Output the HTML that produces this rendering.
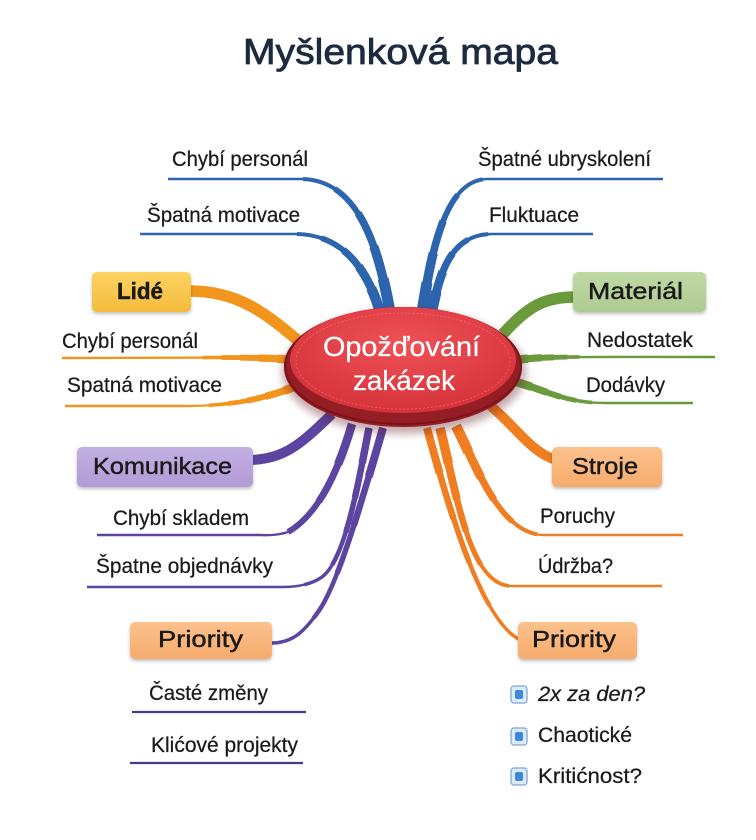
<!DOCTYPE html>
<html>
<head>
<meta charset="utf-8">
<style>
  html,body{margin:0;padding:0;background:#ffffff;}
  body{width:756px;height:840px;overflow:hidden;}
  svg{display:block;}
  text{font-family:"Liberation Sans","DejaVu Sans",sans-serif;}
  .leaf{font-size:21px;fill:#1b1b1f;stroke:#1b1b1f;stroke-width:0.25px;}
  .node{font-size:23px;fill:#1a1a1a;stroke:#1a1a1a;stroke-width:0.45px;}
</style>
</head>
<body>
<svg width="756" height="840" viewBox="0 0 756 840" xmlns="http://www.w3.org/2000/svg">
  <defs>
    <filter id="sh" x="-10%" y="-20%" width="120%" height="150%">
      <feDropShadow dx="0" dy="2" stdDeviation="1.5" flood-color="#000" flood-opacity="0.25"/>
    </filter>
    <filter id="blur4" x="-20%" y="-20%" width="140%" height="140%">
      <feGaussianBlur stdDeviation="4"/>
    </filter>
    <radialGradient id="face" cx="50%" cy="35%" r="65%">
      <stop offset="0" stop-color="#ee5257"/>
      <stop offset="1" stop-color="#d6323a"/>
    </radialGradient>
    <linearGradient id="gY" x1="0" y1="0" x2="0" y2="1"><stop offset="0" stop-color="#fcd262"/><stop offset="1" stop-color="#f4bc3d"/></linearGradient>
    <linearGradient id="gG" x1="0" y1="0" x2="0" y2="1"><stop offset="0" stop-color="#bfd9a5"/><stop offset="1" stop-color="#aecb90"/></linearGradient>
    <linearGradient id="gP" x1="0" y1="0" x2="0" y2="1"><stop offset="0" stop-color="#c3b0e2"/><stop offset="1" stop-color="#b09bd6"/></linearGradient>
    <linearGradient id="gO" x1="0" y1="0" x2="0" y2="1"><stop offset="0" stop-color="#fcc18d"/><stop offset="1" stop-color="#f6ab6c"/></linearGradient>
  </defs>

  <!-- Title -->
  <text x="243" y="64" font-size="36" fill="#1c2b3e" stroke="#1c2b3e" stroke-width="0.8" textLength="315" lengthAdjust="spacingAndGlyphs">Myšlenková mapa</text>

  <!-- ===== BLUE branches ===== -->
  <g fill="none" stroke="#2c64ae" stroke-linecap="butt">
    <path d="M390 312 C378 245 358 180 302 179 L168 179" stroke-width="2.4"/>
    <path d="M390 312 C378 245 358 180 302 179 L168 179" pathLength="100" stroke-dasharray="56 200" stroke-width="4.1"/>
    <path d="M390 312 C378 245 358 180 302 179 L168 179" pathLength="100" stroke-dasharray="45 200" stroke-width="5.8"/>
    <path d="M390 312 C378 245 358 180 302 179 L168 179" pathLength="100" stroke-dasharray="34 200" stroke-width="7.6"/>
    <path d="M390 312 C378 245 358 180 302 179 L168 179" pathLength="100" stroke-dasharray="22 200" stroke-width="9.3"/>
    <path d="M390 312 C378 245 358 180 302 179 L168 179" pathLength="100" stroke-dasharray="11 200" stroke-width="11"/>

    <path d="M380 312 C368 272 345 234 295 234 L140 234" stroke-width="2.4"/>
    <path d="M380 312 C368 272 345 234 295 234 L140 234" pathLength="100" stroke-dasharray="44 200" stroke-width="4"/>
    <path d="M380 312 C368 272 345 234 295 234 L140 234" pathLength="100" stroke-dasharray="35 200" stroke-width="5.6"/>
    <path d="M380 312 C368 272 345 234 295 234 L140 234" pathLength="100" stroke-dasharray="26 200" stroke-width="7.2"/>
    <path d="M380 312 C368 272 345 234 295 234 L140 234" pathLength="100" stroke-dasharray="18 200" stroke-width="8.8"/>
    <path d="M380 312 C368 272 345 234 295 234 L140 234" pathLength="100" stroke-dasharray="9 200" stroke-width="10.4"/>

    <path d="M422 312 C432 250 445 180 487 179 L663 179" stroke-width="2.4"/>
    <path d="M422 312 C432 250 445 180 487 179 L663 179" pathLength="100" stroke-dasharray="46 200" stroke-width="4.1"/>
    <path d="M422 312 C432 250 445 180 487 179 L663 179" pathLength="100" stroke-dasharray="37 200" stroke-width="5.8"/>
    <path d="M422 312 C432 250 445 180 487 179 L663 179" pathLength="100" stroke-dasharray="28 200" stroke-width="7.6"/>
    <path d="M422 312 C432 250 445 180 487 179 L663 179" pathLength="100" stroke-dasharray="18 200" stroke-width="9.3"/>
    <path d="M422 312 C432 250 445 180 487 179 L663 179" pathLength="100" stroke-dasharray="9 200" stroke-width="11"/>

    <path d="M432 312 C440 270 452 234 492 234 L593 234" stroke-width="2.4"/>
    <path d="M432 312 C440 270 452 234 492 234 L593 234" pathLength="100" stroke-dasharray="50 200" stroke-width="4"/>
    <path d="M432 312 C440 270 452 234 492 234 L593 234" pathLength="100" stroke-dasharray="40 200" stroke-width="5.6"/>
    <path d="M432 312 C440 270 452 234 492 234 L593 234" pathLength="100" stroke-dasharray="30 200" stroke-width="7.2"/>
    <path d="M432 312 C440 270 452 234 492 234 L593 234" pathLength="100" stroke-dasharray="20 200" stroke-width="8.8"/>
    <path d="M432 312 C440 270 452 234 492 234 L593 234" pathLength="100" stroke-dasharray="10 200" stroke-width="10.4"/>
  </g>

  <!-- ===== ORANGE left (Lidé) ===== -->
  <g fill="none" stroke="#f2951d">
    <path d="M302 344 C266 313 238 291 190 291" stroke-width="11.5"/>
    <path d="M296 360 C250 356 200 358 62 358" stroke-width="2.4"/>
    <path d="M296 360 C250 356 200 358 62 358" pathLength="100" stroke-dasharray="40 200" stroke-width="3.6"/>
    <path d="M296 360 C250 356 200 358 62 358" pathLength="100" stroke-dasharray="32 200" stroke-width="4.8"/>
    <path d="M296 360 C250 356 200 358 62 358" pathLength="100" stroke-dasharray="24 200" stroke-width="6"/>
    <path d="M296 360 C250 356 200 358 62 358" pathLength="100" stroke-dasharray="16 200" stroke-width="7.2"/>
    <path d="M296 360 C250 356 200 358 62 358" pathLength="100" stroke-dasharray="8 200" stroke-width="8.5"/>
    <path d="M302 384 C272 396 240 406 185 406 L65 406" stroke-width="2.4"/>
    <path d="M302 384 C272 396 240 406 185 406 L65 406" pathLength="100" stroke-dasharray="40 200" stroke-width="3.6"/>
    <path d="M302 384 C272 396 240 406 185 406 L65 406" pathLength="100" stroke-dasharray="32 200" stroke-width="4.8"/>
    <path d="M302 384 C272 396 240 406 185 406 L65 406" pathLength="100" stroke-dasharray="24 200" stroke-width="6"/>
    <path d="M302 384 C272 396 240 406 185 406 L65 406" pathLength="100" stroke-dasharray="16 200" stroke-width="7.2"/>
    <path d="M302 384 C272 396 240 406 185 406 L65 406" pathLength="100" stroke-dasharray="8 200" stroke-width="8.5"/>
  </g>

  <!-- ===== GREEN (Materiál) ===== -->
  <g fill="none" stroke="#6b9a3c">
    <path d="M503 334 C528 306 545 297 575 297" stroke-width="11.5"/>
    <path d="M516 360 C545 356 575 357 715 357" stroke-width="2.4"/>
    <path d="M516 360 C545 356 575 357 715 357" pathLength="100" stroke-dasharray="32 200" stroke-width="3.6"/>
    <path d="M516 360 C545 356 575 357 715 357" pathLength="100" stroke-dasharray="26 200" stroke-width="4.8"/>
    <path d="M516 360 C545 356 575 357 715 357" pathLength="100" stroke-dasharray="19 200" stroke-width="6"/>
    <path d="M516 360 C545 356 575 357 715 357" pathLength="100" stroke-dasharray="13 200" stroke-width="7.2"/>
    <path d="M516 360 C545 356 575 357 715 357" pathLength="100" stroke-dasharray="6 200" stroke-width="8.5"/>
    <path d="M516 382 C545 390 565 403 605 403 L693 403" stroke-width="2.4"/>
    <path d="M516 382 C545 390 565 403 605 403 L693 403" pathLength="100" stroke-dasharray="44 200" stroke-width="3.6"/>
    <path d="M516 382 C545 390 565 403 605 403 L693 403" pathLength="100" stroke-dasharray="35 200" stroke-width="4.8"/>
    <path d="M516 382 C545 390 565 403 605 403 L693 403" pathLength="100" stroke-dasharray="26 200" stroke-width="6"/>
    <path d="M516 382 C545 390 565 403 605 403 L693 403" pathLength="100" stroke-dasharray="18 200" stroke-width="7.2"/>
    <path d="M516 382 C545 390 565 403 605 403 L693 403" pathLength="100" stroke-dasharray="9 200" stroke-width="8.5"/>
  </g>

  <!-- ===== PURPLE (Komunikace / Priority left) ===== -->
  <g fill="none" stroke="#5b45a0">
    <path d="M332 414 C300 445 285 458 252 460" stroke-width="10"/>
    <path d="M352 424 C338 472 318 515 288 532 Q276 536 260 535 L97 535" stroke-width="2.4"/>
    <path d="M352 424 C338 472 318 515 288 532" stroke-width="6"/>
    <path d="M352 424 C338 472 318 515 288 532" pathLength="100" stroke-dasharray="66 200" stroke-width="7"/>
    <path d="M352 424 C338 472 318 515 288 532" pathLength="100" stroke-dasharray="33 200" stroke-width="8.5"/>
    <path d="M369 428 C358 485 345 560 322 577 Q308 587 282 587 L87 587" stroke-width="2.4"/>
    <path d="M369 428 C358 485 345 560 322 577 Q308 587 282 587 L87 587" pathLength="100" stroke-dasharray="45 200" stroke-width="3.5"/>
    <path d="M369 428 C358 485 345 560 322 577 Q308 587 282 587 L87 587" pathLength="100" stroke-dasharray="36 200" stroke-width="4.5"/>
    <path d="M369 428 C358 485 345 560 322 577 Q308 587 282 587 L87 587" pathLength="100" stroke-dasharray="27 200" stroke-width="5.5"/>
    <path d="M369 428 C358 485 345 560 322 577 Q308 587 282 587 L87 587" pathLength="100" stroke-dasharray="18 200" stroke-width="6.5"/>
    <path d="M369 428 C358 485 345 560 322 577 Q308 587 282 587 L87 587" pathLength="100" stroke-dasharray="9 200" stroke-width="7.5"/>
    <path d="M383 428 C362 500 338 585 318 612 C304 632 292 643 272 643" stroke-width="3.5"/>
    <path d="M383 428 C362 500 338 585 318 612 C304 632 292 643 272 643" pathLength="100" stroke-dasharray="80 200" stroke-width="4.5"/>
    <path d="M383 428 C362 500 338 585 318 612 C304 632 292 643 272 643" pathLength="100" stroke-dasharray="60 200" stroke-width="5.5"/>
    <path d="M383 428 C362 500 338 585 318 612 C304 632 292 643 272 643" pathLength="100" stroke-dasharray="40 200" stroke-width="6.5"/>
    <path d="M383 428 C362 500 338 585 318 612 C304 632 292 643 272 643" pathLength="100" stroke-dasharray="20 200" stroke-width="8"/>
  </g>

  <!-- ===== ORANGE right (Stroje / Priority right) ===== -->
  <g fill="none" stroke="#ef7d22">
    <path d="M486 402 C515 425 530 452 556 460" stroke-width="10"/>
    <path d="M456 426 C478 470 500 532 542 535 L683 535" stroke-width="2.4"/>
    <path d="M456 426 C478 470 500 532 542 535 L683 535" pathLength="100" stroke-dasharray="49 200" stroke-width="4"/>
    <path d="M456 426 C478 470 500 532 542 535 L683 535" pathLength="100" stroke-dasharray="39 200" stroke-width="5.6"/>
    <path d="M456 426 C478 470 500 532 542 535 L683 535" pathLength="100" stroke-dasharray="29 200" stroke-width="7.2"/>
    <path d="M456 426 C478 470 500 532 542 535 L683 535" pathLength="100" stroke-dasharray="20 200" stroke-width="8.8"/>
    <path d="M456 426 C478 470 500 532 542 535 L683 535" pathLength="100" stroke-dasharray="10 200" stroke-width="10.4"/>
    <path d="M440 428 C458 500 470 586 512 586 L662 586" stroke-width="2.4"/>
    <path d="M440 428 C458 500 470 586 512 586 L662 586" pathLength="100" stroke-dasharray="54 200" stroke-width="3.8"/>
    <path d="M440 428 C458 500 470 586 512 586 L662 586" pathLength="100" stroke-dasharray="43 200" stroke-width="5.2"/>
    <path d="M440 428 C458 500 470 586 512 586 L662 586" pathLength="100" stroke-dasharray="32 200" stroke-width="6.6"/>
    <path d="M440 428 C458 500 470 586 512 586 L662 586" pathLength="100" stroke-dasharray="22 200" stroke-width="8"/>
    <path d="M440 428 C458 500 470 586 512 586 L662 586" pathLength="100" stroke-dasharray="11 200" stroke-width="9.5"/>
    <path d="M427 428 C452 520 482 620 520 640" stroke-width="3.5"/>
    <path d="M427 428 C452 520 482 620 520 640" pathLength="100" stroke-dasharray="80 200" stroke-width="4.5"/>
    <path d="M427 428 C452 520 482 620 520 640" pathLength="100" stroke-dasharray="60 200" stroke-width="5.5"/>
    <path d="M427 428 C452 520 482 620 520 640" pathLength="100" stroke-dasharray="40 200" stroke-width="6.5"/>
    <path d="M427 428 C452 520 482 620 520 640" pathLength="100" stroke-dasharray="20 200" stroke-width="8"/>
  </g>

  <!-- Left Priority underlines (dark purple) -->
  <g stroke="#4a3a86" stroke-width="2.2" fill="none">
    <path d="M132 712 L306 712"/>
    <path d="M130 763 L303 763"/>
  </g>

  <!-- ===== Central ellipse ===== -->
  <ellipse cx="404" cy="372" rx="122" ry="62" fill="#5a0e12" opacity="0.35" filter="url(#blur4)"/>
  <ellipse cx="403" cy="367" rx="119" ry="60" fill="#951d24"/>
  <ellipse cx="403" cy="366" rx="118" ry="58" fill="none" stroke="#7a1419" stroke-width="2"/>
  <ellipse cx="403" cy="360" rx="113" ry="53" fill="url(#face)"/>
  <ellipse cx="403" cy="361" rx="107" ry="48" fill="none" stroke="#f48286" stroke-width="1" stroke-dasharray="2 2" opacity="0.5"/>
  <text x="323" y="356" font-size="28" fill="#ffffff" textLength="157" lengthAdjust="spacingAndGlyphs" stroke="#ffffff" stroke-width="0.3">Opožďování</text>
  <text x="353" y="390" font-size="28" fill="#ffffff" textLength="102" lengthAdjust="spacingAndGlyphs" stroke="#ffffff" stroke-width="0.3">zakázek</text>

  <!-- ===== Boxes ===== -->
  <g filter="url(#sh)">
    <rect x="92" y="272" width="99" height="40" rx="5" fill="url(#gY)"/>
    <rect x="573" y="272" width="133" height="40" rx="5" fill="url(#gG)"/>
    <rect x="77" y="447" width="176" height="40" rx="5" fill="url(#gP)"/>
    <rect x="552" y="447" width="110" height="40" rx="5" fill="url(#gO)"/>
    <rect x="130" y="622" width="142" height="37" rx="5" fill="url(#gO)"/>
    <rect x="518" y="622" width="119" height="37" rx="5" fill="url(#gO)"/>
  </g>
  <text class="node" x="117" y="299" font-weight="bold" textLength="46" lengthAdjust="spacingAndGlyphs" stroke-width="0">Lidé</text>
  <text class="node" x="588" y="299" textLength="95" lengthAdjust="spacingAndGlyphs">Materiál</text>
  <text class="node" x="93" y="474" textLength="139" lengthAdjust="spacingAndGlyphs">Komunikace</text>
  <text class="node" x="572" y="474" textLength="66" lengthAdjust="spacingAndGlyphs">Stroje</text>
  <text class="node" x="158" y="647" textLength="85" lengthAdjust="spacingAndGlyphs">Priority</text>
  <text class="node" x="532" y="647" textLength="84" lengthAdjust="spacingAndGlyphs">Priority</text>

  <!-- ===== Leaf labels ===== -->
  <text class="leaf" x="172" y="166" textLength="136" lengthAdjust="spacingAndGlyphs">Chybí personál</text>
  <text class="leaf" x="147" y="222" textLength="153" lengthAdjust="spacingAndGlyphs">Špatná motivace</text>
  <text class="leaf" x="478" y="166" textLength="173" lengthAdjust="spacingAndGlyphs">Špatné ubryskolení</text>
  <text class="leaf" x="489" y="222" textLength="90" lengthAdjust="spacingAndGlyphs">Fluktuace</text>

  <text class="leaf" x="62" y="348" textLength="136" lengthAdjust="spacingAndGlyphs">Chybí personál</text>
  <text class="leaf" x="67" y="392" textLength="155" lengthAdjust="spacingAndGlyphs">Spatná motivace</text>

  <text class="leaf" x="587" y="347" textLength="106" lengthAdjust="spacingAndGlyphs">Nedostatek</text>
  <text class="leaf" x="586" y="392" textLength="79" lengthAdjust="spacingAndGlyphs">Dodávky</text>

  <text class="leaf" x="113" y="525" textLength="136" lengthAdjust="spacingAndGlyphs">Chybí skladem</text>
  <text class="leaf" x="96" y="573" textLength="177" lengthAdjust="spacingAndGlyphs">Špatne objednávky</text>
  <text class="leaf" x="149" y="700" textLength="119" lengthAdjust="spacingAndGlyphs">Časté změny</text>
  <text class="leaf" x="151" y="752" textLength="147" lengthAdjust="spacingAndGlyphs">Klićové projekty</text>

  <text class="leaf" x="540" y="523" textLength="75" lengthAdjust="spacingAndGlyphs">Poruchy</text>
  <text class="leaf" x="538" y="573" textLength="75" lengthAdjust="spacingAndGlyphs">Údržba?</text>

  <!-- Bullets -->
  <g>
    <rect x="511" y="686" width="16" height="17" rx="3" fill="#dce9f8" stroke="#8fb3e0" stroke-width="1.5"/>
    <rect x="515" y="690" width="8" height="9" rx="2" fill="#3d88db"/>
    <rect x="511" y="728" width="16" height="17" rx="3" fill="#dce9f8" stroke="#8fb3e0" stroke-width="1.5"/>
    <rect x="515" y="732" width="8" height="9" rx="2" fill="#3d88db"/>
    <rect x="511" y="768" width="16" height="17" rx="3" fill="#dce9f8" stroke="#8fb3e0" stroke-width="1.5"/>
    <rect x="515" y="772" width="8" height="9" rx="2" fill="#3d88db"/>
  </g>
  <text class="leaf" x="538" y="701" font-style="italic" textLength="107" lengthAdjust="spacingAndGlyphs">2x za den?</text>
  <text class="leaf" x="538" y="742" textLength="94" lengthAdjust="spacingAndGlyphs">Chaotické</text>
  <text class="leaf" x="538" y="783" textLength="104" lengthAdjust="spacingAndGlyphs">Kritićnost?</text>
</svg>
</body>
</html>
